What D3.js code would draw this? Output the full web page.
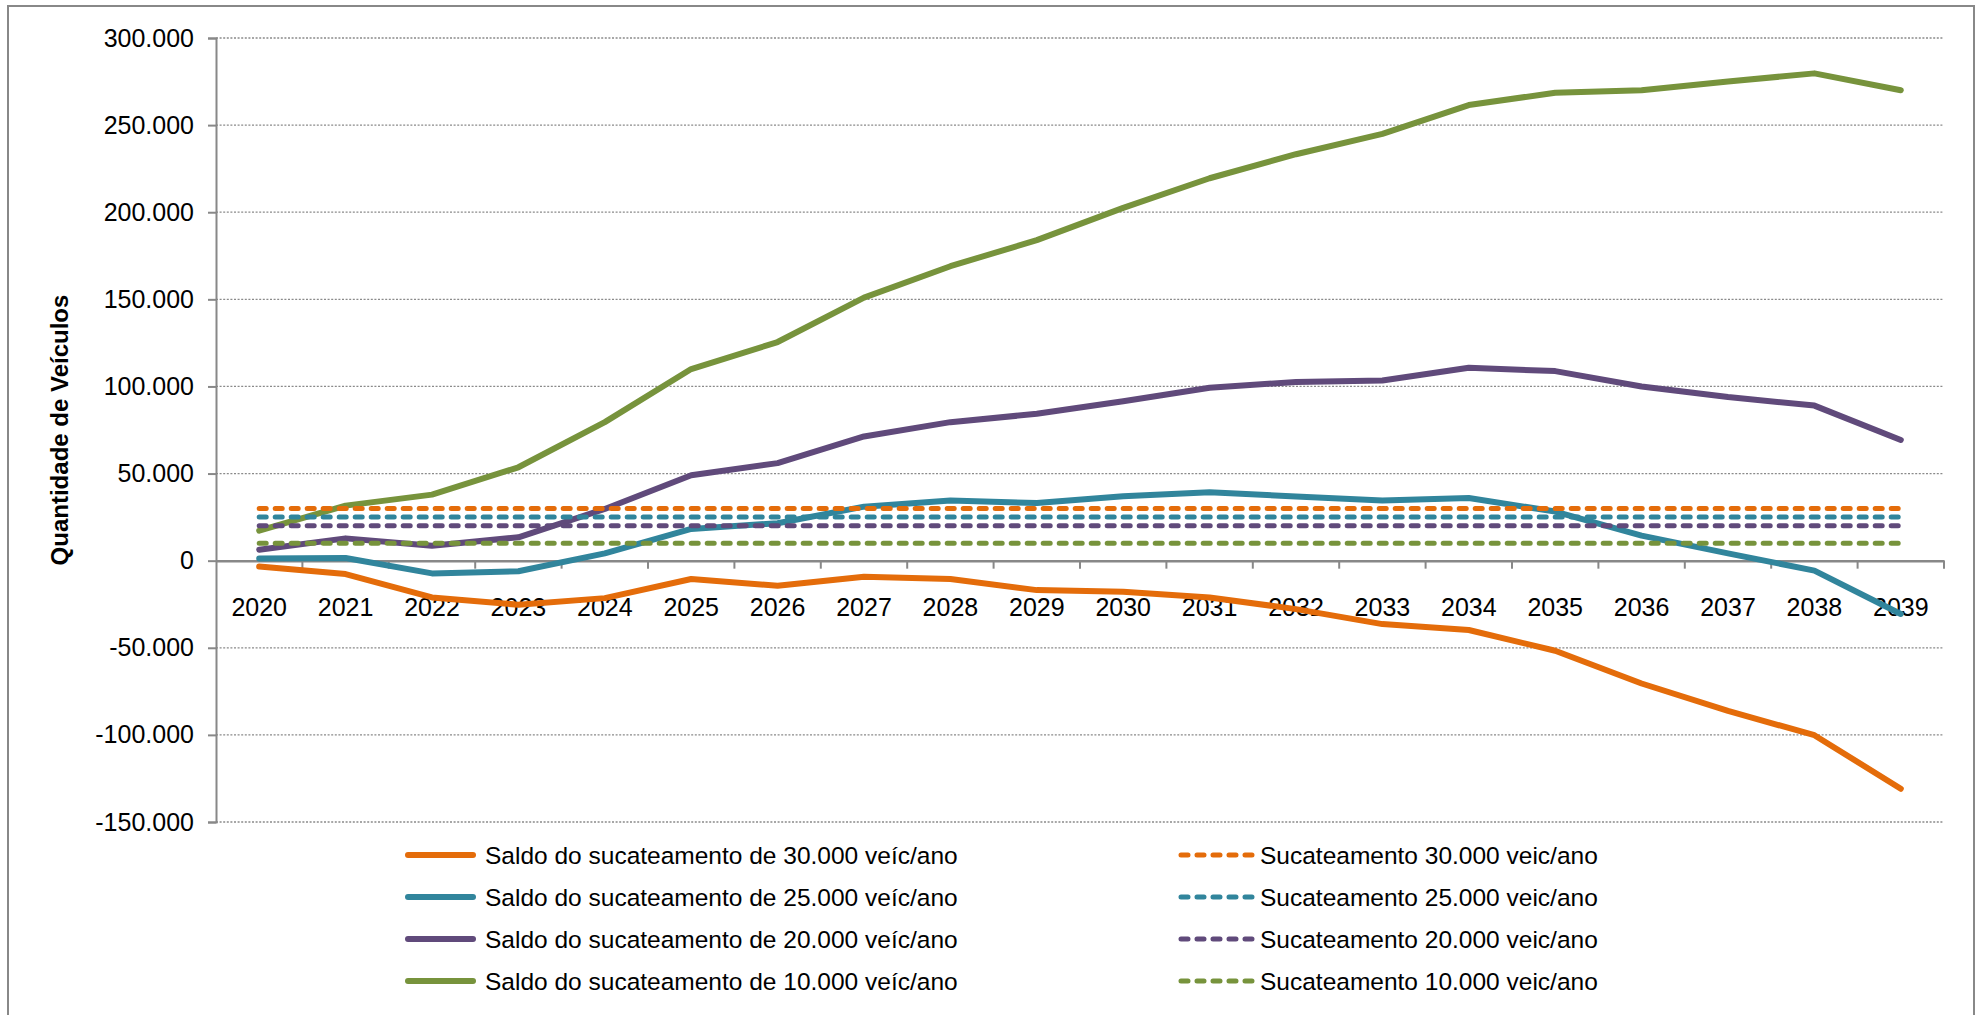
<!DOCTYPE html>
<html>
<head>
<meta charset="utf-8">
<script src="https://cdn.jsdelivr.net/npm/d3@7"></script>
<style>
  body { margin: 0; background: #fff; }
  svg { display: block; font-family: "Liberation Sans", Arial, sans-serif; }
</style>
</head>
<body>
<div id="chart"></div>
<script>
// data
var anos = ["2020","2021","2022","2023","2024","2025","2026","2027","2028","2029",
            "2030","2031","2032","2033","2034","2035","2036","2037","2038","2039"];

var saldo30 = [-3400, -7700, -21100, -25300, -21500, -10500, -14400, -9200, -10500, -16900,
               -17800, -21100, -27800, -36400, -39800, -51700, -70500, -86200, -100200, -130900];
var saldo25 = [1300, 1500, -7300, -6100, 4200, 18200, 21500, 31000, 34500, 33100,
               37000, 39300, 36800, 34500, 36000, 28200, 14400, 4200, -5700, -30600];
var saldo20 = [6300, 12800, 8600, 13400, 29700, 49000, 56000, 71300, 79500, 84300,
               91500, 99200, 102600, 103400, 110700, 108800, 100000, 93900, 89000, 69300];
var saldo10 = [17200, 31600, 37900, 53600, 79500, 110000, 125500, 151000, 169000, 184000,
               202500, 219500, 233300, 245000, 261500, 268600, 270000, 275000, 279700, 270000];

var sucateamento = [30000, 25000, 20000, 10000];

var cores = ["#E46C0A", "#31859C", "#604A7B", "#77933C"];
var nomesSaldo = ["Saldo do sucateamento de 30.000 veíc/ano", "Saldo do sucateamento de 25.000 veíc/ano",
                  "Saldo do sucateamento de 20.000 veíc/ano", "Saldo do sucateamento de 10.000 veíc/ano"];
var nomesSuc = ["Sucateamento 30.000 veic/ano", "Sucateamento 25.000 veic/ano",
                "Sucateamento 20.000 veic/ano", "Sucateamento 10.000 veic/ano"];
var yTicks = [-150000, -100000, -50000, 0, 50000, 100000, 150000, 200000, 250000, 300000];

var W = 1984, H = 1015;
var margem = {left: 216, right: 1944, top: 38, bottom: 822};

var svg = d3.select("#chart").append("svg")
  .attr("width", W)
  .attr("height", H);

// outer frame
svg.append("rect")
  .attr("x", 8).attr("y", 6)
  .attr("width", 1966).attr("height", 1040)
  .attr("fill", "#fff")
  .attr("stroke", "#888").attr("stroke-width", 2);

var x = d3.scaleBand().domain(anos).range([margem.left, margem.right]).padding(0);
var y = d3.scaleLinear().domain([-150000, 300000]).range([margem.bottom, margem.top]);

var fmt = d3.formatLocale({decimal: ",", thousands: ".", grouping: [3], currency: ["", ""], minus: "-"}).format(",");

function cx(d) { return x(d) + x.bandwidth() / 2; }

// grid lines
svg.append("g")
  .selectAll("line")
  .data(yTicks.filter(function(v) { return v != 0; }))
  .enter()
  .append("line")
    .attr("x1", margem.left).attr("x2", margem.right)
    .attr("y1", function(d) { return y(d); })
    .attr("y2", function(d) { return y(d); })
    .attr("stroke", "#8a8a8a")
    .attr("stroke-width", 1.3)
    .attr("stroke-dasharray", "2,1.6");

// y axis
var yAxis = svg.append("g")
  .attr("transform", "translate(" + margem.left + ",0)")
  .call(d3.axisLeft(y).tickValues(yTicks).tickFormat(fmt).tickSize(8).tickPadding(14));
yAxis.select(".domain").attr("stroke", "#888").attr("stroke-width", 2);
yAxis.selectAll(".tick line").attr("stroke", "#888").attr("stroke-width", 2);
yAxis.selectAll("text").attr("font-size", 25).attr("fill", "#000")
  .attr("font-family", "Liberation Sans, Arial, sans-serif");

// x axis at zero
var xAxis = svg.append("g")
  .attr("transform", "translate(0," + y(0) + ")")
  .call(d3.axisBottom(x).tickSize(0).tickPadding(38));
xAxis.select(".domain").attr("stroke", "#888").attr("stroke-width", 2.5);
xAxis.selectAll("text").attr("font-size", 25).attr("fill", "#000")
  .attr("font-family", "Liberation Sans, Arial, sans-serif");

// ticks between categories
var bordas = anos.map(function(d) { return x(d); }).concat([margem.right]);
xAxis.append("g")
  .selectAll("line")
  .data(bordas.slice(1))
  .enter()
  .append("line")
    .attr("x1", function(d) { return d; })
    .attr("x2", function(d) { return d; })
    .attr("y1", 0).attr("y2", 8)
    .attr("stroke", "#888").attr("stroke-width", 2);

// y axis title
svg.append("text")
  .attr("transform", "translate(68,430) rotate(-90)")
  .attr("text-anchor", "middle")
  .attr("font-size", 24)
  .attr("font-weight", "bold")
  .text("Quantidade de Veículos");

var line = d3.line()
  .x(function(d, i) { return cx(anos[i]); })
  .y(function(d) { return y(d); });

var saldos = [saldo30, saldo25, saldo20, saldo10];

// solid lines
saldos.forEach(function(s, i) {
  svg.append("path")
    .datum(s)
    .attr("d", line)
    .attr("fill", "none")
    .attr("stroke", cores[i])
    .attr("stroke-width", 6)
    .attr("stroke-linejoin", "round")
    .attr("stroke-linecap", "round");
});

// dashed constant lines
sucateamento.forEach(function(v, i) {
  svg.append("path")
    .datum(anos.map(function() { return v; }))
    .attr("d", line)
    .attr("fill", "none")
    .attr("stroke", cores[i])
    .attr("stroke-width", 5)
    .attr("stroke-linecap", "round")
    .attr("stroke-dasharray", "7,9");
});

// legend
var linhasY = [855, 897, 939, 981];
var leg = svg.append("g");
nomesSaldo.forEach(function(n, i) {
  leg.append("line")
    .attr("x1", 408).attr("x2", 473)
    .attr("y1", linhasY[i]).attr("y2", linhasY[i])
    .attr("stroke", cores[i]).attr("stroke-width", 6)
    .attr("stroke-linecap", "round");
  leg.append("text")
    .attr("x", 485).attr("y", linhasY[i] + 8.5)
    .attr("font-size", 24.5)
    .text(n);
});
nomesSuc.forEach(function(n, i) {
  leg.append("line")
    .attr("x1", 1181).attr("x2", 1252)
    .attr("y1", linhasY[i]).attr("y2", linhasY[i])
    .attr("stroke", cores[i]).attr("stroke-width", 5)
    .attr("stroke-linecap", "round")
    .attr("stroke-dasharray", "7,9");
  leg.append("text")
    .attr("x", 1260).attr("y", linhasY[i] + 8.5)
    .attr("font-size", 24.5)
    .text(n);
});
</script>
</body>
</html>
